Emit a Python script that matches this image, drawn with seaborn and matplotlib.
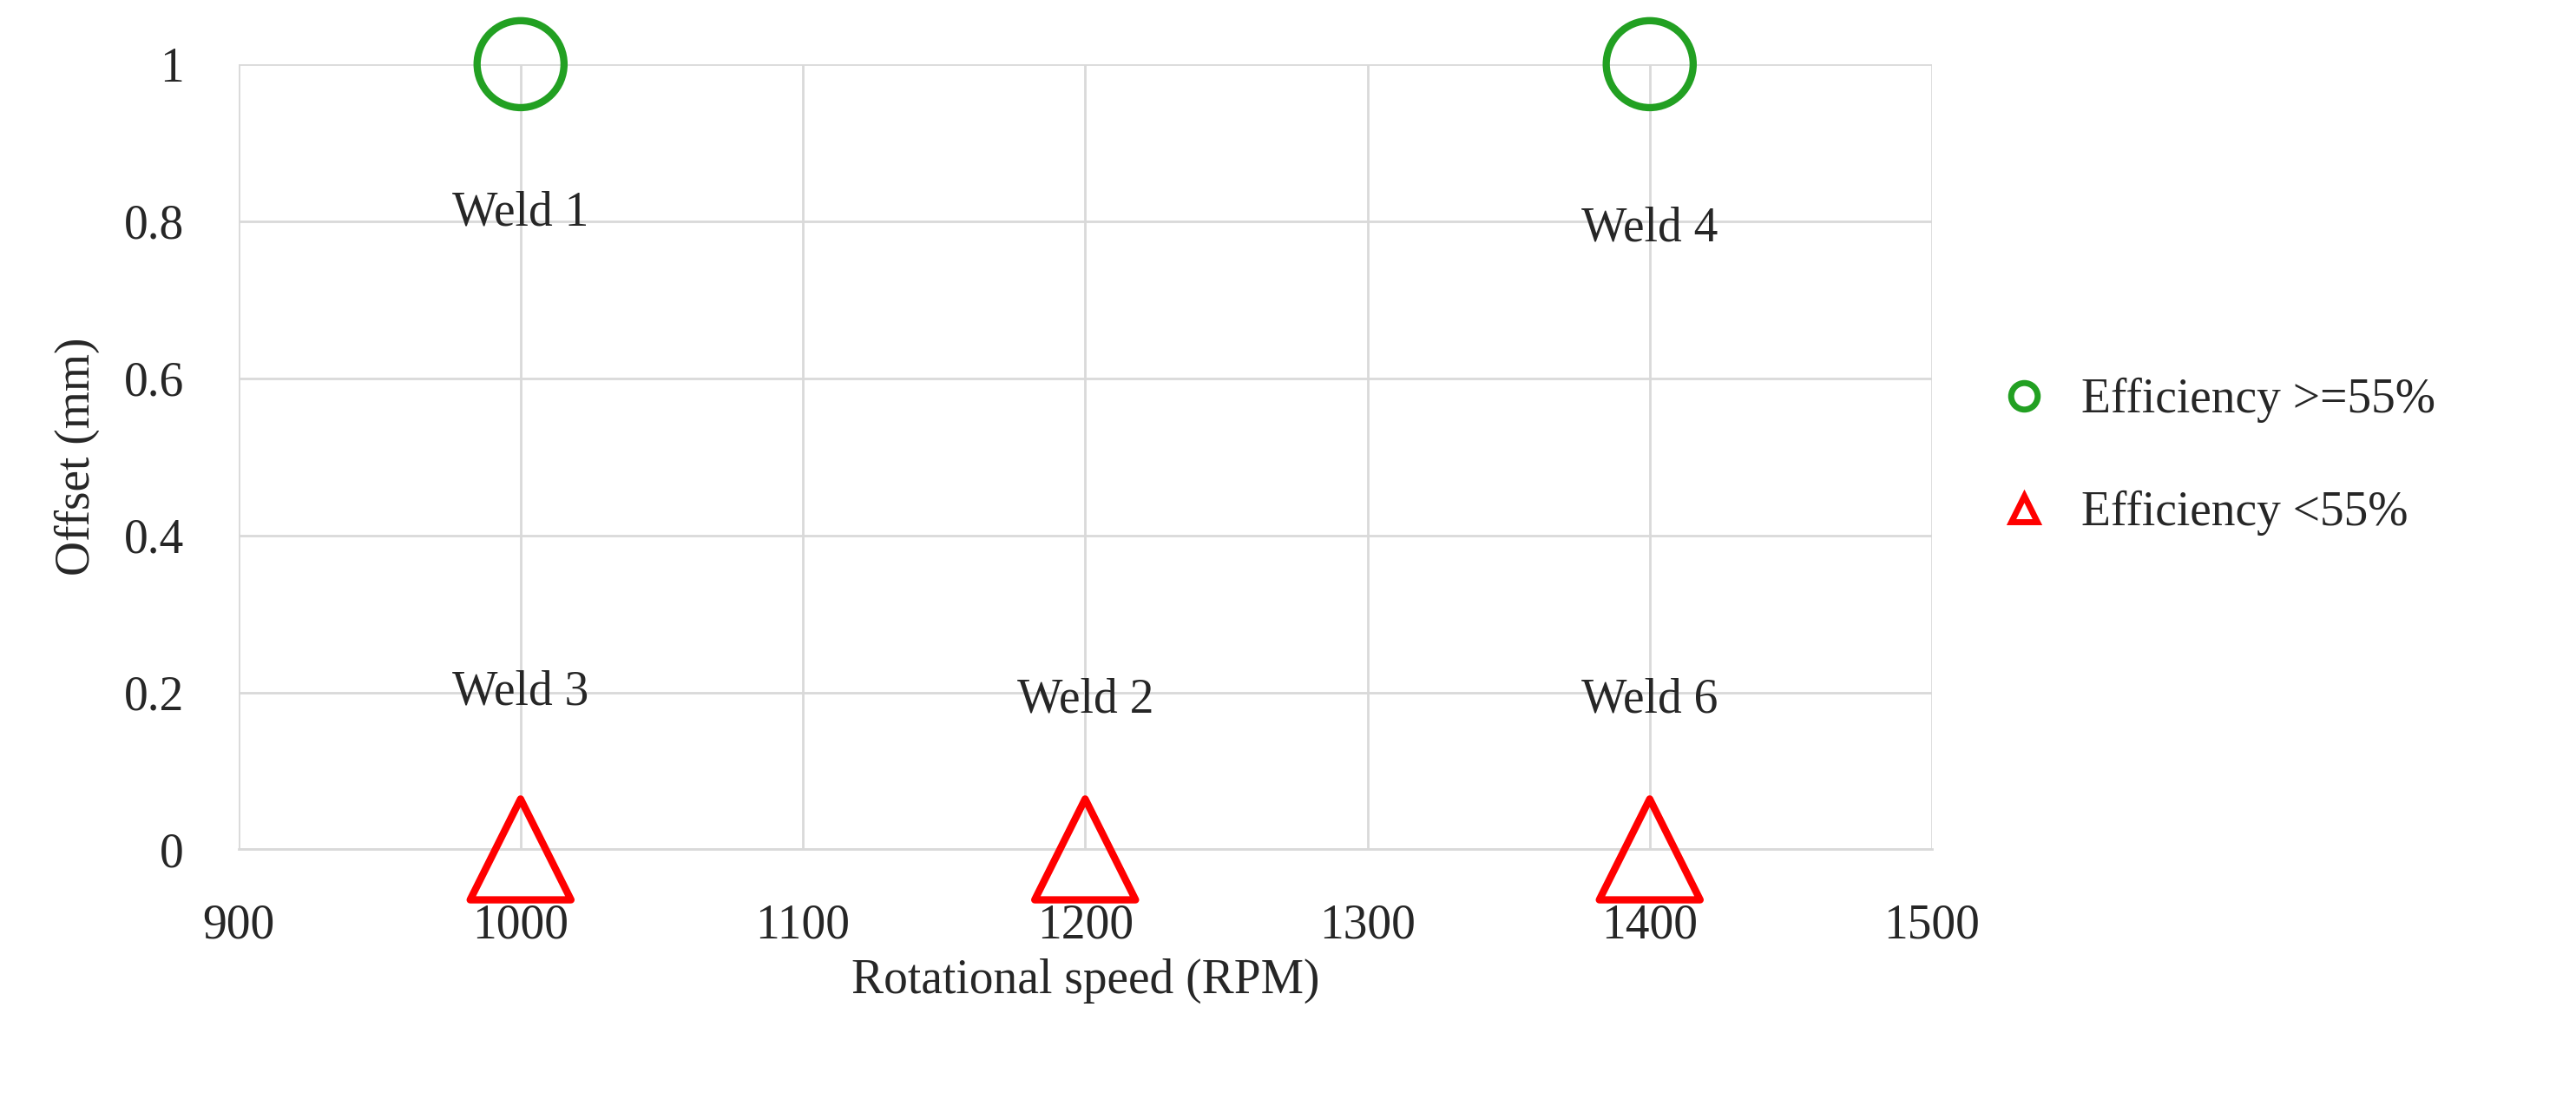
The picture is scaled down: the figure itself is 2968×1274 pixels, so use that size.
import matplotlib
matplotlib.use("Agg")
import matplotlib.pyplot as plt
from matplotlib.lines import Line2D
import seaborn as sns
import pandas as pd

speed = [1000, 1400, 1000, 1200, 1400]
offset = [1, 1, 0, 0, 0]
group = ["Efficiency >=55%", "Efficiency >=55%", "Efficiency <55%", "Efficiency <55%", "Efficiency <55%"]
labels = ["Weld 1", "Weld 4", "Weld 3", "Weld 2", "Weld 6"]
label_y = [0.81, 0.79, 0.20, 0.19, 0.19]

df = pd.DataFrame({"speed": speed, "offset": offset, "group": group})

sns.set_style("white")
plt.rcParams['font.family'] = ['Liberation Serif', 'DejaVu Serif']

fig = plt.figure(figsize=(29.68, 12.74), dpi=100)
ax = fig.add_axes([0.0925, 0.232, 0.6575, 0.71])
ax.set_axisbelow(True)
ax.grid(True, color="#d9d9d9", linewidth=2)

styles = [("Efficiency >=55%", "o", "#22a022", 5200), ("Efficiency <55%", "^", "#ff0000", 7000)]
handles = []
for g, m, c, s in styles:
    sub = df[df.group == g]
    sns.scatterplot(data=sub, x="speed", y="offset", marker=m, s=s, facecolor="none",
                    edgecolor=c, linewidth=6, ax=ax, legend=False, clip_on=False, zorder=3)
    handles.append(Line2D([], [], marker=m, linestyle="none", markersize=22,
                          markerfacecolor="none", markeredgecolor=c, markeredgewidth=5, label=g))

for x, y, t in zip(speed, label_y, labels):
    ax.text(x, y, t, ha="center", va="center", fontsize=40)

ax.set_xlim(900, 1500)
ax.set_ylim(0, 1)
ax.set_xticks([900, 1000, 1100, 1200, 1300, 1400, 1500])
ax.set_yticks([0, 0.2, 0.4, 0.6, 0.8, 1])
ax.set_yticklabels(["0", "0.2", "0.4", "0.6", "0.8", "1"])
ax.tick_params(axis="x", labelsize=40, length=0, pad=45)
ax.tick_params(axis="y", labelsize=40, length=0, pad=45)
for sp in ["top", "right", "left"]:
    ax.spines[sp].set_visible(False)
ax.spines["bottom"].set_color("#d9d9d9")
ax.spines["bottom"].set_linewidth(2)
ax.set_xlabel("Rotational speed (RPM)", fontsize=40, labelpad=8)
ax.set_ylabel("Offset (mm)", fontsize=40, labelpad=20)

ax.legend(handles=handles, loc="center left", bbox_to_anchor=(1.0, 0.5), frameon=False,
          fontsize=40, labelspacing=1.4, handletextpad=0.2)

fig.savefig("out.png", dpi=100)
